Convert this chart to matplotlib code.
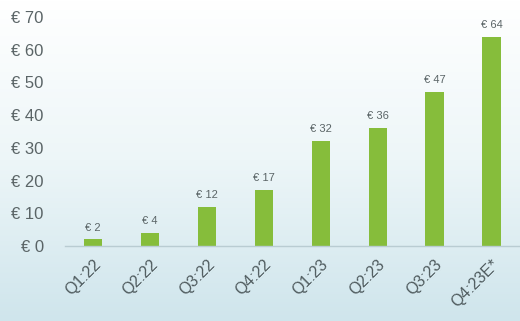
import matplotlib
matplotlib.use("Agg")
import matplotlib.pyplot as plt
import numpy as np
from matplotlib.colors import LinearSegmentedColormap

plt.rcParams["font.family"] = ["Liberation Sans", "DejaVu Sans"]

quarters = ["Q1:22", "Q2:22", "Q3:22", "Q4:22", "Q1:23", "Q2:23", "Q3:23", "Q4:23E*"]
values = [2, 4, 12, 17, 32, 36, 47, 64]
yticks = [0, 10, 20, 30, 40, 50, 60, 70]

bar_color = "#86bd3b"
text_color = "#5a6466"

fig = plt.figure(figsize=(5.2, 3.21), dpi=100)

# soft white-to-blue background
bg = fig.add_axes([0, 0, 1, 1], zorder=0)
cmap = LinearSegmentedColormap.from_list("bg", ["#ffffff", "#edf6f8", "#cfe5ec"])
grad = np.linspace(0, 1, 256).reshape(-1, 1)
bg.imshow(grad, aspect="auto", cmap=cmap, extent=[0, 1, 0, 1], origin="upper")
bg.axis("off")

ax = fig.add_axes([64.5 / 520, 1 - 246 / 321, 1 - 64.5 / 520, (246 - 17) / 321], zorder=1)
ax.patch.set_alpha(0)

x = np.arange(len(quarters))
bars = ax.bar(x, values, width=0.32, color=bar_color, zorder=2)

for xi, v in zip(x, values):
    ax.annotate(f"€ {v}", (xi, v), xytext=(0, 5), textcoords="offset points",
                ha="center", va="bottom", fontsize=8, color=text_color)

ax.set_xlim(-0.5, 7.5)
ax.set_ylim(0, 70)
ax.set_yticks(yticks)
ax.set_yticklabels([f"€ {t}" for t in yticks], fontsize=12, color=text_color)
ax.set_xticks(x)
ax.set_xticklabels(quarters, rotation=45, ha="right", va="top", rotation_mode="anchor",
                   fontsize=11.5, color="#4f5b5e")
ax.tick_params(axis="y", length=0, pad=15)
ax.tick_params(axis="x", length=0, pad=8)

for side in ["top", "right", "left"]:
    ax.spines[side].set_visible(False)
ax.spines["bottom"].set_color("#b9ccd2")
ax.spines["bottom"].set_linewidth(1.0)

fig.savefig("out.png", dpi=100)
